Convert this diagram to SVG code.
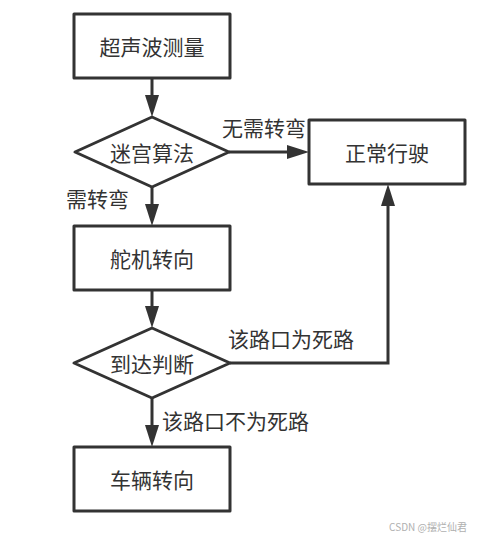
<svg xmlns="http://www.w3.org/2000/svg" width="490" height="538" viewBox="0 0 490 538">
<style>
.n{fill:#fff;stroke:#333;stroke-width:3;stroke-linejoin:round}
.t{font-family:"Noto Sans CJK SC","Noto Sans",sans-serif;font-size:21px;fill:#333;text-anchor:middle;dominant-baseline:central}
.l{font-family:"Noto Sans CJK SC","Noto Sans",sans-serif;font-size:21px;fill:#333;text-anchor:start;dominant-baseline:central}
.c{fill:none;stroke:#333;stroke-width:3}
.w{font-family:"Noto Sans CJK SC","Liberation Sans",sans-serif;font-size:10px;fill:#b0b0b0;text-anchor:end;dominant-baseline:central}
</style>
<defs>
<marker id="ah" viewBox="0 0 22 14" refX="12" refY="7" markerWidth="22" markerHeight="14" markerUnits="userSpaceOnUse" orient="auto">
<path d="M0,0 L22,7 L0,14 z" fill="#333"/>
</marker>
</defs>
<rect width="490" height="538" fill="#fff"/>
<g id="connectors">
<line class="c" x1="152" y1="78" x2="152" y2="107" marker-end="url(#ah)"/>
<line class="c" x1="152" y1="187" x2="152" y2="216" marker-end="url(#ah)"/>
<line class="c" x1="152" y1="290" x2="152" y2="318" marker-end="url(#ah)"/>
<line class="c" x1="152" y1="398" x2="152" y2="437" marker-end="url(#ah)"/>
<line class="c" x1="229" y1="152" x2="299" y2="152" marker-end="url(#ah)"/>
<polyline class="c" points="230,363 388,363 388,194" marker-end="url(#ah)"/>
<text class="l" x="222" y="127">无需转弯</text>
<text class="l" x="66" y="198">需转弯</text>
<text class="l" x="228" y="338">该路口为死路</text>
<text class="l" x="162" y="420">该路口不为死路</text>
</g>
<g id="n1"><rect class="n" x="74" y="14" width="156" height="64"/><text class="t" x="152" y="46">超声波测量</text></g>
<g id="n2"><polygon class="n" points="152,117 229,152 152,187 75,152"/><text class="t" x="152" y="152">迷宫算法</text></g>
<g id="n3"><rect class="n" x="309" y="120" width="156" height="64"/><text class="t" x="387" y="152">正常行驶</text></g>
<g id="n4"><rect class="n" x="74" y="226" width="156" height="64"/><text class="t" x="152" y="258">舵机转向</text></g>
<g id="n5"><polygon class="n" points="152,328 230,363 152,398 74,363"/><text class="t" x="152" y="363">到达判断</text></g>
<g id="n6"><rect class="n" x="74" y="447" width="156" height="64"/><text class="t" x="152" y="479">车辆转向</text></g>
<text class="w" x="467" y="526">CSDN @摆烂仙君</text>
</svg>
